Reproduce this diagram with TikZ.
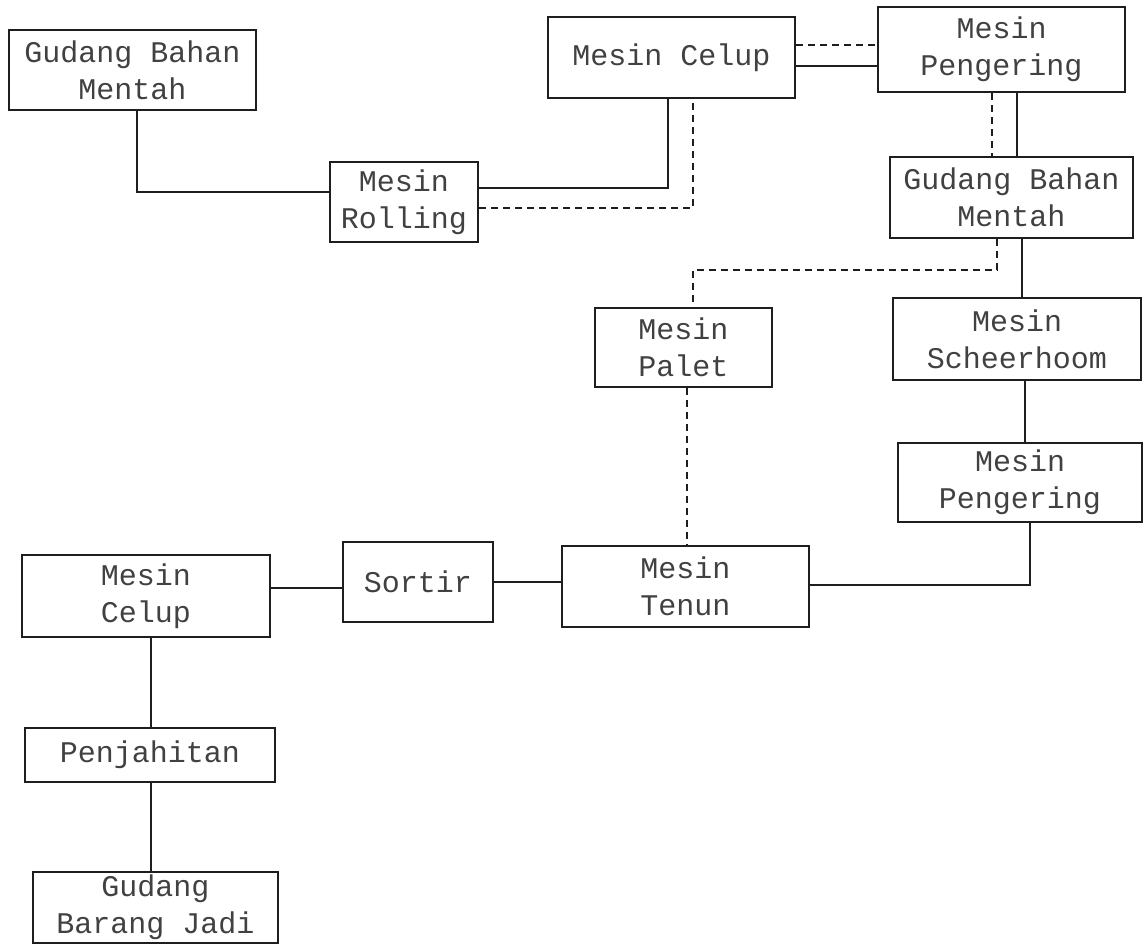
\documentclass[tikz,border=0pt]{standalone}
\usepackage{fontspec}
\setmonofont{Liberation Mono}
\definecolor{ink}{RGB}{30,30,30}
\definecolor{txt}{RGB}{65,65,65}
\begin{document}
\begin{tikzpicture}[x=1pt,y=-1pt,
  box/.style={draw=ink, line width=2.8pt, inner sep=0pt, align=center,
    font=\ttfamily\fontsize{30}{37}\selectfont, text=txt},
  solidln/.style={draw=ink, line width=2.8pt},
  dashln/.style={draw=ink, line width=2.2pt, dash pattern=on 7pt off 5pt}]
\useasboundingbox (0,0) rectangle (1144,947);

\node[box, minimum width=247pt, minimum height=80pt] (gbm1) at (132.5,70) {Gudang Bahan\\Mentah};
\node[box, minimum width=148pt, minimum height=80pt] (rolling) at (404,202) {Mesin\\Rolling};
\node[box, minimum width=247pt, minimum height=81pt] (celup1) at (671.5,57.5) {Mesin Celup};
\node[box, minimum width=247pt, minimum height=85pt] (peng1) at (1001.5,49.5) {Mesin\\Pengering};
\node[box, minimum width=243pt, minimum height=81pt] (gbm2) at (1011.5,197.5) {Gudang Bahan\\Mentah};
\node[box, minimum width=177pt, minimum height=79pt] (palet) at (683.5,347.5) {Mesin\\Palet};
\node[box, minimum width=248pt, minimum height=82pt] (scheer) at (1017,339) {Mesin\\Scheerhoom};
\node[box, minimum width=244pt, minimum height=79pt] (peng2) at (1020,482.5) {Mesin\\Pengering};
\node[box, minimum width=247pt, minimum height=81pt] (tenun) at (685.5,586.5) {Mesin\\Tenun};
\node[box, minimum width=150pt, minimum height=80pt] (sortir) at (418,582) {Sortir};
\node[box, minimum width=248pt, minimum height=82pt] (celup2) at (146,596) {Mesin\\Celup};
\node[box, minimum width=250pt, minimum height=54pt] (penj) at (150,755) {Penjahitan};
\node[box, minimum width=245pt, minimum height=71pt] (gbj) at (155.5,907.5) {Gudang\\Barang Jadi};

\coordinate (k1) at (137,192);
\draw[solidln] (k1 |- gbm1.south) -- (k1) -- (k1 -| rolling.west);
\coordinate (k2) at (668,188);
\draw[solidln] (k2 -| rolling.east) -- (k2) -- (k2 |- celup1.south);
\coordinate (k3) at (693,208);
\draw[dashln] (k3 -| rolling.east) -- (k3) -- (k3 |- celup1.south);
\coordinate (k4) at (0,45);
\draw[dashln] (k4 -| celup1.east) -- (k4 -| peng1.west);
\coordinate (k5) at (0,66);
\draw[solidln] (k5 -| celup1.east) -- (k5 -| peng1.west);
\coordinate (k6) at (992,0);
\draw[dashln] (k6 |- peng1.south) -- (k6 |- gbm2.north);
\coordinate (k7) at (1017,0);
\draw[solidln] (k7 |- peng1.south) -- (k7 |- gbm2.north);
\coordinate (k8) at (997,270);
\coordinate (k9) at (693,270);
\draw[dashln] (k8 |- gbm2.south) -- (k8) -- (k9) -- (k9 |- palet.north);
\coordinate (k10) at (1022,0);
\draw[solidln] (k10 |- gbm2.south) -- (k10 |- scheer.north);
\coordinate (k11) at (687,0);
\draw[dashln] (k11 |- palet.south) -- (k11 |- tenun.north);
\coordinate (k12) at (1025,0);
\draw[solidln] (k12 |- scheer.south) -- (k12 |- peng2.north);
\coordinate (k13) at (1030,585);
\draw[solidln] (k13 |- peng2.south) -- (k13) -- (k13 -| tenun.east);
\coordinate (k14) at (0,582);
\draw[solidln] (k14 -| tenun.west) -- (k14 -| sortir.east);
\coordinate (k15) at (0,588);
\draw[solidln] (k15 -| sortir.west) -- (k15 -| celup2.east);
\coordinate (k16) at (151,0);
\draw[solidln] (k16 |- celup2.south) -- (k16 |- penj.north);
\draw[solidln] (k16 |- penj.south) -- (k16 |- gbj.north);
\end{tikzpicture}
\end{document}
